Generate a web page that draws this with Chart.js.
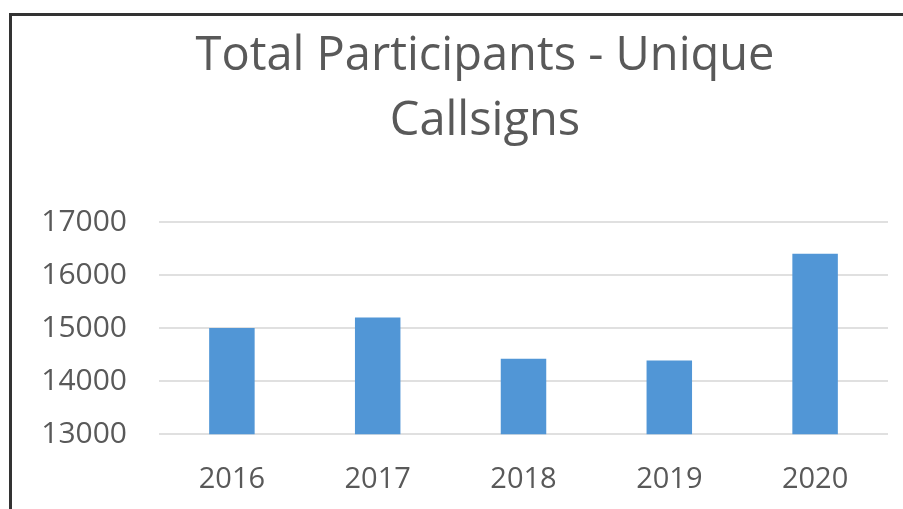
<!DOCTYPE html>
<html>
<head>
<meta charset="utf-8">
<script src="https://cdn.jsdelivr.net/npm/chart.js@4/dist/chart.umd.min.js"></script>
<style>
  html, body { margin: 0; padding: 0; background: #fff; overflow: hidden; width: 903px; height: 509px; }
  #wrap { position: absolute; left: 0; top: 0; width: 960px; height: 529px; }
  #frame { position: absolute; left: 9px; top: 13px; width: 1000px; height: 600px;
           border-top: 3px solid #333; border-left: 3px solid #333; pointer-events: none; }
</style>
</head>
<body>
<div id="wrap"><canvas id="c" width="960" height="529"></canvas></div>
<div id="frame"></div>
<script>
const titleLines = ['Total Participants - Unique', 'Callsigns'];
const years = ['2016', '2017', '2018', '2019', '2020'];
const participants = [15000, 15200, 14420, 14390, 16400];
const yTickLabels = ['13000', '14000', '15000', '16000', '17000'];
const yMin = 13000, yMax = 17000, yStep = 1000;

const textColor = '#595959';
const fontFamily = '"Open Sans", "DejaVu Sans", sans-serif';

new Chart(document.getElementById('c'), {
  type: 'bar',
  data: {
    labels: years,
    datasets: [{
      data: participants,
      backgroundColor: '#5196d6',
      borderWidth: 0,
      barPercentage: 0.312,
      categoryPercentage: 1.0
    }]
  },
  options: {
    responsive: false,
    animation: false,
    layout: { padding: { left: 30, right: 20, top: 0, bottom: 12 } },
    plugins: {
      legend: { display: false },
      tooltip: { enabled: false },
      title: {
        display: true,
        text: titleLines,
        color: textColor,
        font: { family: fontFamily, size: 47, weight: 'normal', lineHeight: 65 / 47 },
        padding: { top: 24, bottom: 68 }
      }
    },
    scales: {
      x: {
        grid: { display: false },
        border: { display: false },
        ticks: {
          color: textColor,
          font: { family: fontFamily, size: 29 },
          padding: 20,
          maxRotation: 0
        }
      },
      y: {
        position: 'left',
        min: yMin,
        max: yMax,
        grid: { color: '#e0e0e0', lineWidth: 2, drawTicks: false },
        border: { display: false },
        ticks: {
          stepSize: yStep,
          color: textColor,
          font: { family: fontFamily, size: 30 },
          padding: 32,
          callback: function (value) {
            const i = Math.round((value - yMin) / yStep);
            return yTickLabels[i];
          }
        },
        afterFit: function (s) { s.width = 129; }
      },
      yRight: {
        position: 'right',
        display: true,
        grid: { display: false, drawTicks: false },
        border: { display: false },
        ticks: { display: false },
        afterFit: function (s) { s.width = 52; }
      }
    }
  }
});
</script>
</body>
</html>
